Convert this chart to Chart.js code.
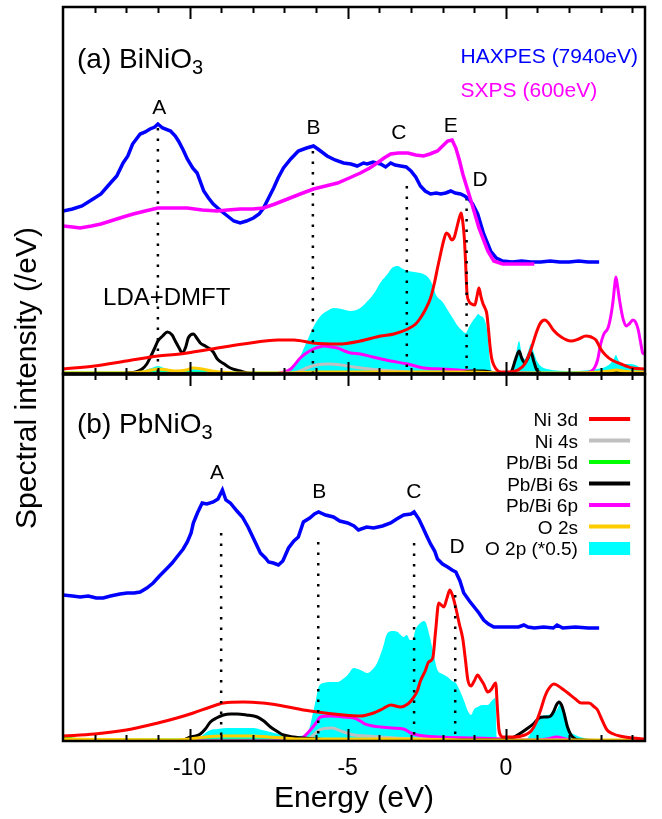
<!DOCTYPE html>
<html>
<head>
<meta charset="utf-8">
<script src="https://cdn.jsdelivr.net/npm/chart.js@4.4.0/dist/chart.umd.min.js"></script>
<style>
  html, body { margin: 0; padding: 0; background: #fff; }
</style>
</head>
<body>
<canvas id="myChart" width="662" height="819"></canvas>
<script>
// ---- (a) BiNiO3 : experiment ----
const haxA_E = [-14, -13.7, -13.4, -13.05, -12.8, -12.5, -12.3, -12.1, -11.95, -11.8, -11.56, -11.4, -11.25, -11.1, -11.0, -10.85, -10.6, -10.45, -10.35, -10.2, -10.07, -9.9, -9.76, -9.55, -9.4, -9.25, -9.0, -8.8, -8.6, -8.4, -8.2, -7.98, -7.8, -7.66, -7.5, -7.34, -7.2, -7.03, -6.8, -6.56, -6.3, -6.08, -5.9, -5.65, -5.4, -5.13, -4.9, -4.7, -4.5, -4.38, -4.2, -3.96, -3.8, -3.64, -3.5, -3.33, -3.15, -3.0, -2.85, -2.7, -2.55, -2.38, -2.2, -2.06, -1.9, -1.74, -1.6, -1.43, -1.3, -1.17, -1.05, -0.89, -0.7, -0.48, -0.3, -0.1, 0.2, 0.5, 0.8, 1.1, 1.4, 1.7, 2.0, 2.3, 2.6, 2.95];
const haxA_I = [163, 165, 168, 175, 180, 191, 198, 211, 218, 230, 240, 242, 245, 247, 250, 246, 243, 238, 233, 224, 215, 206, 201, 183, 176, 170, 163, 158, 153, 151, 153, 156, 160, 166, 176, 186, 196, 206, 215, 223, 226, 228, 224, 218, 214, 211, 210, 208, 211, 210, 212, 210, 207, 211, 209, 208, 207, 203, 197, 188, 183, 180, 181, 180, 181, 183, 181, 180, 178, 175, 170, 160, 140, 123, 116, 113, 112, 113, 112, 112, 113, 112, 112, 113, 112, 112];
const sxA_E = [-14, -13.7, -13.46, -13.1, -12.8, -12.5, -12.1, -11.78, -11.4, -11.0, -10.6, -10.07, -9.6, -9.12, -8.8, -8.4, -8.0, -7.66, -7.3, -6.9, -6.5, -6.08, -5.7, -5.32, -4.95, -4.6, -4.3, -4.07, -3.85, -3.64, -3.4, -3.1, -2.85, -2.6, -2.4, -2.16, -2.0, -1.84, -1.7, -1.58, -1.47, -1.36, -1.1, -0.85, -0.57, -0.38, -0.1, 0.3, 0.6, 0.9];
const sxA_I = [148, 147, 146, 148, 150, 153, 157, 160, 163, 166, 166, 166, 164, 163, 164, 165, 165, 166, 170, 175, 180, 185, 188, 191, 196, 201, 206, 211, 216, 220, 221, 221, 219, 218, 220, 223, 228, 233, 234, 226, 214, 200, 173, 146, 123, 113, 110, 110, 110, 110];

// ---- (a) BiNiO3 : LDA+DMFT ----
const ni3dA_E = [-14, -13, -12, -11, -10.3, -9.3, -8.3, -7.2, -6.7, -6.1, -5.3, -4.6, -3.96, -3.54, -3.1, -2.85, -2.7, -2.55, -2.38, -2.25, -2.16, -2.05, -1.96, -1.88, -1.8, -1.72, -1.64, -1.56, -1.48, -1.41, -1.36, -1.31, -1.27, -1.23, -1.17, -1.08, -0.98, -0.91, -0.85, -0.79, -0.73, -0.66, -0.6, -0.55, -0.5, -0.45, -0.38, -0.28, -0.15, 0.1, 0.38, 0.6, 0.8, 0.95, 1.06, 1.15, 1.24, 1.35, 1.5, 1.75, 2.06, 2.3, 2.53, 2.7, 2.85, 3.0, 3.15, 3.35, 3.64, 4.0, 4.4];
const ni3dA_I = [5, 8, 13, 18, 20, 25, 30, 34, 34, 31, 30, 33, 38, 40, 45, 50, 56, 64, 76, 92, 106, 122, 134, 141, 139, 134, 136, 145, 155, 161, 152, 135, 110, 82, 73, 70, 69, 78, 86, 78, 71, 66, 60, 45, 28, 16, 9, 4, 2, 2, 4, 10, 25, 40, 49, 53, 54, 51, 44, 37, 33, 35, 38, 37, 34, 25, 19, 14, 10, 6, 5];
const ni4sA_E = [-14, -7.0, -6.6, -6.3, -6.0, -5.6, -5.2, -4.8, -4.3, -3.5, -2.5, 0, 4.4];
const ni4sA_I = [0, 0, 2, 6, 9, 10, 9, 7, 5, 3, 1, 0, 0];
const d5A_E = [-14, 4.4];
const d5A_I = [1, 0.5];
const s6A_E = [-14, -12.3, -11.97, -11.7, -11.5, -11.35, -11.25, -11.1, -11.0, -10.85, -10.7, -10.55, -10.45, -10.33, -10.23, -10.12, -10.04, -9.88, -9.75, -9.66, -9.5, -9.4, -9.25, -9.12, -8.9, -8.71, -8.4, -8.17, -7, -1.6, -1.3, -1.0, -0.7, -0.5, -0.3, 0.1, 0.2, 0.3, 0.42, 0.5, 0.6, 0.7, 0.79, 0.88, 0.98, 1.1, 1.3, 3.2, 3.45, 3.7, 4.4];
const s6A_I = [0, 0, 1, 2, 5, 10, 16, 26, 33, 38, 42, 39, 33, 26, 21, 27, 36, 40, 35, 31, 28, 26, 22, 15, 10, 6, 3, 1, 0, 0, 2, 3, 3, 2, 0, 0, 4, 14, 23, 16, 11, 16, 22, 13, 4, 1, 0, 0, 2, 0, 0];
const p6A_E = [-14, -7.5, -7.0, -6.8, -6.5, -6.3, -6.08, -5.9, -5.76, -5.5, -5.32, -5.1, -4.9, -4.6, -4.2, -3.64, -3.1, -2.6, -2.0, -1.5, -0.7, -0.1, 0.5, 1.5, 2.5, 2.8, 2.9, 3.0, 3.1, 3.23, 3.32, 3.39, 3.44, 3.48, 3.53, 3.6, 3.7, 3.8, 3.9, 4.02, 4.1, 4.18, 4.26, 4.33, 4.4];
const p6A_I = [0, 0, 2, 5, 16, 21, 25, 27, 28, 27, 26, 23, 21, 20, 17, 13, 10, 6, 5, 4, 2, 1, 1, 0, 1, 6, 14, 30, 40, 46, 58, 73, 88, 97, 88, 73, 56, 48, 50, 54, 52, 45, 32, 21, 20];
const o2sA_E = [-14, -12, -11.5, -11.2, -11.0, -10.7, -10.4, -10.1, -9.9, -9.6, -9.3, -9.0, -8.5, -7, -6, -5, -3, -1, 0, 1, 2, 3, 3.3, 3.5, 3.7, 4.0, 4.4];
const o2sA_I = [1, 1, 2, 4, 5, 4, 3, 4, 6, 5, 3, 2, 1, 1, 2, 2, 2, 2, 1, 1, 1, 2, 3, 4, 3, 2, 2];
const o2pA_E = [-14, -12.5, -12.0, -11.5, -11.2, -11.0, -10.8, -10.5, -10.2, -10.0, -9.85, -9.6, -9.3, -9.0, -8.5, -7.5, -7.0, -6.8, -6.5, -6.3, -6.1, -5.86, -5.6, -5.45, -5.2, -4.9, -4.6, -4.4, -4.18, -3.95, -3.74, -3.6, -3.42, -3.25, -3.1, -2.9, -2.7, -2.55, -2.44, -2.3, -2.22, -2.0, -1.84, -1.68, -1.52, -1.4, -1.27, -1.15, -1.05, -0.95, -0.87, -0.8, -0.7, -0.6, -0.55, -0.5, -0.45, -0.35, 0.1, 0.2, 0.3, 0.42, 0.5, 0.6, 0.7, 0.79, 0.9, 1.0, 1.3, 2.1, 2.9, 3.2, 3.4, 3.48, 3.56, 3.7, 3.9, 4.1, 4.25, 4.4];
const o2pA_I = [0, 0, 1, 3, 6, 8, 6, 4, 4, 5, 6, 5, 3, 2, 1, 1, 2, 6, 18, 32, 46, 58, 64, 66, 65, 63, 66, 72, 80, 92, 100, 106, 108, 105, 103, 102, 101, 99, 96, 88, 80, 72, 64, 56, 48, 44, 41, 48, 53, 57, 60, 58, 56, 45, 30, 12, 3, 0, 0, 4, 16, 33, 20, 15, 22, 30, 20, 12, 5, 3, 5, 8, 14, 19, 14, 10, 10, 9, 6, 3];

// ---- (b) PbNiO3 : experiment ----
const haxB_E = [-14, -13.7, -13.46, -13.2, -12.95, -12.73, -12.5, -12.2, -11.97, -11.75, -11.56, -11.35, -11.15, -10.95, -10.7, -10.55, -10.4, -10.2, -10.07, -9.95, -9.88, -9.75, -9.6, -9.45, -9.25, -9.1, -8.96, -8.85, -8.71, -8.5, -8.33, -8.15, -8.0, -7.76, -7.6, -7.5, -7.35, -7.19, -7.05, -6.87, -6.7, -6.56, -6.4, -6.2, -6.05, -5.92, -5.7, -5.45, -5.25, -5.0, -4.8, -4.66, -4.4, -4.18, -3.9, -3.64, -3.45, -3.23, -3.0, -2.9, -2.75, -2.63, -2.5, -2.38, -2.25, -2.16, -2.0, -1.84, -1.7, -1.58, -1.45, -1.33, -1.15, -1.0, -0.85, -0.7, -0.55, -0.38, -0.2, 0.1, 0.4, 0.57, 0.7, 0.9, 1.2, 1.5, 1.62, 1.8, 2.2, 2.6, 2.95];
const haxB_I = [146, 145, 144, 145, 143, 143, 145, 147, 148, 148, 149, 153, 158, 165, 173, 178, 184, 192, 199, 208, 218, 228, 238, 237, 239, 242, 251, 241, 238, 230, 224, 214, 204, 188, 183, 179, 178, 176, 180, 193, 200, 204, 219, 223, 227, 229, 226, 224, 220, 218, 215, 211, 214, 213, 215, 218, 222, 226, 227, 229, 222, 214, 205, 197, 190, 182, 177, 174, 171, 169, 160, 148, 140, 134, 128, 121, 117, 114, 114, 114, 114, 116, 114, 113, 114, 113, 116, 113, 114, 113, 113];

// ---- (b) PbNiO3 : LDA+DMFT ----
const ni3dB_E = [-14, -13, -12, -11, -10.4, -9.88, -9.34, -8.93, -8.3, -7.7, -7.22, -6.18, -5.13, -4.6, -4.18, -3.9, -3.64, -3.33, -3.1, -2.95, -2.8, -2.7, -2.55, -2.44, -2.31, -2.22, -2.12, -2.04, -1.96, -1.86, -1.77, -1.68, -1.58, -1.47, -1.36, -1.28, -1.2, -1.1, -1.0, -0.89, -0.8, -0.7, -0.57, -0.45, -0.38, -0.32, -0.27, -0.22, -0.15, -0.1, 0.25, 0.6, 0.8, 0.95, 1.1, 1.23, 1.33, 1.52, 1.75, 1.96, 2.2, 2.38, 2.63, 2.8, 2.9, 3.0, 3.2, 3.4, 3.6, 4.0, 4.4];
const ni3dB_I = [5, 7, 11, 18, 23, 28, 34, 38, 39, 38, 36, 30, 26, 25, 28, 32, 36, 34, 37, 42, 50, 60, 70, 79, 83, 110, 138, 136, 134, 143, 151, 145, 133, 117, 102, 82, 61, 55, 60, 66, 62, 57, 49, 52, 56, 58, 35, 12, 5, 4, 4, 6, 10, 18, 31, 44, 51, 57, 53, 48, 42, 38, 38, 34, 31, 24, 11, 7, 5, 3, 2];
const ni4sB_E = [-14, -6.8, -6.2, -5.9, -5.5, -5.13, -4.8, -4.4, -4.0, -3.5, -2.5, -1, 4.4];
const ni4sB_I = [0, 0, 3, 11, 13, 9, 6, 5, 4, 3, 2, 1, 0];
const d5B_E = [-14, -13.7, -13, 4.4];
const d5B_I = [4, 2, 1, 0.5];
const s6B_E = [-14, -10.3, -9.97, -9.8, -9.66, -9.5, -9.34, -9.15, -8.93, -8.7, -8.49, -8.2, -7.86, -7.65, -7.44, -7.2, -7.03, -6.7, -6.4, -5.5, -0.2, 0.2, 0.47, 0.7, 0.9, 1.05, 1.2, 1.32, 1.42, 1.52, 1.6, 1.68, 1.76, 1.84, 1.95, 2.06, 2.2, 2.4, 4.4];
const s6B_I = [0, 0, 4, 5, 7, 12, 19, 23, 26, 27, 27, 26, 24, 20, 14, 9, 6, 4, 3, 1, 1, 3, 8, 13, 18, 23, 24, 24, 25, 30, 36, 39, 36, 28, 14, 6, 2, 1, 0];
const p6B_E = [-14, -7, -6.6, -6.4, -6.18, -6.0, -5.86, -5.5, -5.13, -4.8, -4.6, -4.45, -4.2, -3.96, -3.6, -3.23, -3.0, -2.8, -2.1, -1.0, 0, 0.5, 1.0, 1.3, 1.6, 1.9, 2.2, 4.4];
const p6B_I = [0, 0, 1, 4, 11, 18, 24, 25, 24, 23, 20, 17, 15, 14, 13, 12, 8, 6, 4, 3, 2, 1, 1, 2, 4, 2, 0, 0];
const o2sB_E = [-14, -10.5, -10, -9.5, -9.0, -8.5, -8.0, -7.5, -7.0, -6.5, -5, -3, -1, 0, 4.4];
const o2sB_I = [2, 1, 2, 4, 5, 5, 5, 4, 3, 2, 2, 2, 1, 1, 1];
const o2pB_E = [-14, -10, -9.66, -9.5, -9.34, -9.1, -8.8, -8.4, -7.98, -7.7, -7.44, -7.2, -6.9, -6.6, -6.3, -6.2, -6.1, -6.0, -5.92, -5.76, -5.55, -5.32, -5.15, -5.0, -4.81, -4.6, -4.38, -4.2, -4.07, -3.9, -3.74, -3.55, -3.42, -3.32, -3.23, -3.13, -3.03, -2.95, -2.85, -2.7, -2.6, -2.54, -2.45, -2.38, -2.27, -2.16, -2.0, -1.84, -1.7, -1.58, -1.45, -1.33, -1.2, -1.1, -1.0, -0.89, -0.75, -0.57, -0.45, -0.33, -0.29, -0.2, 0.6, 0.79, 0.95, 1.1, 1.3, 1.52, 1.63, 1.72, 1.8, 1.9, 2.0, 2.2, 2.6, 3.0, 4.4];
const o2pB_I = [0, 0, 4, 8, 11, 12, 13, 13, 13, 11, 9, 7, 5, 5, 7, 14, 28, 42, 54, 58, 59, 59, 62, 66, 73, 71, 68, 72, 78, 92, 108, 110, 109, 106, 104, 106, 101, 101, 112, 118, 120, 119, 110, 101, 85, 71, 67, 64, 60, 58, 50, 41, 30, 26, 32, 34, 36, 36, 40, 43, 3, 0, 0, 8, 16, 24, 26, 28, 32, 38, 30, 20, 11, 6, 2, 1, 0];

// peak markers (energy, top of dotted line)
const markA_E = [-11.0, -6.1, -3.13, -1.24];
const markA_top = [246, 223, 188, 176];
const markB_E = [-9.0, -5.93, -2.9, -1.6];
const markB_top = [208, 199, 198, 146];

const tickVals = [-10, -5, 0];

const FONT = "'Liberation Sans', Arial, Helvetica, sans-serif";
Chart.defaults.font.family = FONT;
Chart.defaults.color = '#000';

const pts = (E, I) => E.map((x, i) => ({x: x, y: I[i]}));

function curve(label, E, I, color, axis, order, opts) {
  return Object.assign({
    label: label,
    data: pts(E, I),
    yAxisID: axis,
    borderColor: color,
    backgroundColor: color,
    borderWidth: 3,
    pointRadius: 0,
    fill: false,
    order: order,
    cubicInterpolationMode: 'monotone'
  }, opts || {});
}

function marks(E, top, axis) {
  return E.map((e, i) => ({
    label: 'mark',
    data: [{x: e, y: top[i]}, {x: e, y: 0}],
    yAxisID: axis,
    borderColor: '#000',
    borderWidth: 2.5,
    borderDash: [2.5, 8],
    pointRadius: 0,
    fill: false,
    order: 5
  }));
}

const RED = '#ff0000', GRAY = '#c0c0c0', GREEN = '#00ff00', BLACK = '#000000',
      MAG = '#ff00ff', GOLD = '#ffcc00', CYAN = '#00ffff', BLUE = '#0000ff';
const EXP = {cubicInterpolationMode: 'default', tension: 0, borderWidth: 3.5};

const datasets = [
  // panel (a)
  curve('O 2p (*0.5)', o2pA_E, o2pA_I, CYAN, 'yA', 20, {fill: 'origin', borderWidth: 0}),
  curve('Pb/Bi 5d', d5A_E, d5A_I, GREEN, 'yA', 19),
  curve('Ni 4s', ni4sA_E, ni4sA_I, GRAY, 'yA', 18),
  curve('Pb/Bi 6p', p6A_E, p6A_I, MAG, 'yA', 17),
  curve('Pb/Bi 6s', s6A_E, s6A_I, BLACK, 'yA', 16),
  curve('O 2s', o2sA_E, o2sA_I, GOLD, 'yA', 15),
  curve('Ni 3d', ni3dA_E, ni3dA_I, RED, 'yA', 14),
  ...marks(markA_E, markA_top, 'yA'),
  curve('HAXPES (7940eV)', haxA_E, haxA_I, BLUE, 'yA', 2, EXP),
  curve('SXPS (600eV)', sxA_E, sxA_I, MAG, 'yA', 1, EXP),
  // panel (b)
  curve('O 2p (*0.5)', o2pB_E, o2pB_I, CYAN, 'yB', 20, {fill: 'origin', borderWidth: 0}),
  curve('Pb/Bi 5d', d5B_E, d5B_I, GREEN, 'yB', 19),
  curve('Ni 4s', ni4sB_E, ni4sB_I, GRAY, 'yB', 18),
  curve('Pb/Bi 6p', p6B_E, p6B_I, MAG, 'yB', 17),
  curve('Pb/Bi 6s', s6B_E, s6B_I, BLACK, 'yB', 16),
  curve('O 2s', o2sB_E, o2sB_I, GOLD, 'yB', 15),
  curve('Ni 3d', ni3dB_E, ni3dB_I, RED, 'yB', 14),
  ...marks(markB_E, markB_top, 'yB'),
  curve('HAXPES (7940eV)', haxB_E, haxB_I, BLUE, 'yB', 2, EXP)
];

// legend order as in the figure
const legendOrder = ['Ni 3d', 'Ni 4s', 'Pb/Bi 5d', 'Pb/Bi 6s', 'Pb/Bi 6p', 'O 2s', 'O 2p (*0.5)'];

// peak letters: [text, energy, height]
const notesA = [['A', -10.96, 260], ['B', -6.08, 240], ['C', -3.38, 235], ['E', -1.74, 242], ['D', -0.81, 188]];
const notesB = [['A', -9.13, 262], ['B', -5.9, 243], ['C', -2.91, 243], ['D', -1.54, 188]];

function text(ctx, s, x, y, size, color, align, base) {
  ctx.font = size + 'px ' + FONT;
  ctx.fillStyle = color || '#000';
  ctx.textAlign = align || 'left';
  ctx.textBaseline = base || 'alphabetic';
  ctx.fillText(s, x, y);
}

const decor = {
  id: 'decor',
  afterDraw(chart) {
    const ctx = chart.ctx;
    const x = chart.scales.x, yA = chart.scales.yA, yB = chart.scales.yB;
    const L = x.left, R = x.right;
    ctx.save();
    ctx.strokeStyle = '#000';
    [yA, yB].forEach(y => {
      ctx.lineWidth = 2;
      for (let e = Math.ceil(x.min) + 1; e < x.max; e++) {
        const px = Math.round(x.getPixelForValue(e)) + 0.5;
        const len = e % 5 === 0 ? 12 : 6;
        ctx.beginPath();
        ctx.moveTo(px, y.top); ctx.lineTo(px, y.top + len);
        ctx.moveTo(px, y.bottom); ctx.lineTo(px, y.bottom - len);
        ctx.stroke();
      }
      ctx.lineWidth = 2.5;
      ctx.strokeRect(L, y.top, R - L, y.bottom - y.top);
    });
    ctx.lineWidth = 3.5;
    ctx.beginPath(); ctx.moveTo(L, yA.bottom); ctx.lineTo(R, yA.bottom); ctx.stroke();

    // panel titles
    text(ctx, '(a) BiNiO', L + 14, yA.top + 61, 28);
    let w = ctx.measureText('(a) BiNiO').width;
    text(ctx, '3', L + 14 + w, yA.top + 67, 20);
    text(ctx, '(b) PbNiO', L + 14, yB.top + 59, 28);
    w = ctx.measureText('(b) PbNiO').width;
    text(ctx, '3', L + 14 + w, yB.top + 65, 20);

    // peak letters
    notesA.forEach(n => text(ctx, n[0], x.getPixelForValue(n[1]), yA.getPixelForValue(n[2]), 21, '#000', 'center'));
    notesB.forEach(n => text(ctx, n[0], x.getPixelForValue(n[1]), yB.getPixelForValue(n[2]), 21, '#000', 'center'));
    text(ctx, 'LDA+DMFT', x.getPixelForValue(-10.72), yA.getPixelForValue(69), 24, '#000', 'center');

    // experiment labels
    const ex = x.getPixelForValue(-1.43);
    text(ctx, 'HAXPES (7940eV)', ex, yA.getPixelForValue(311), 21, BLUE);
    text(ctx, 'SXPS (600eV)', ex, yA.getPixelForValue(277), 21, MAG);

    // legend in panel (b)
    const tx = x.getPixelForValue(2.28);
    const lx0 = x.getPixelForValue(2.63), lx1 = x.getPixelForValue(3.93);
    const bDs = chart.data.datasets.filter(d => d.yAxisID === 'yB');
    legendOrder.forEach((name, k) => {
      const d = bDs.find(s => s.label === name);
      const base = yB.top + 52 + k * 21.5;
      text(ctx, name, tx, base, 19, '#000', 'right');
      const cy = base - 7;
      if (d.fill) {
        ctx.fillStyle = d.backgroundColor;
        ctx.fillRect(lx0, cy - 6, lx1 - lx0, 13);
      } else {
        ctx.strokeStyle = d.borderColor;
        ctx.lineWidth = 4;
        ctx.beginPath(); ctx.moveTo(lx0, cy); ctx.lineTo(lx1, cy); ctx.stroke();
      }
    });

    // y title
    ctx.save();
    ctx.translate(28, (yA.top + yB.bottom) / 2 + 4);
    ctx.rotate(-Math.PI / 2);
    text(ctx, 'Spectral intensity (/eV)', 0, 0, 30, '#000', 'center', 'middle');
    ctx.restore();
    ctx.restore();
  }
};

new Chart(document.getElementById('myChart'), {
  type: 'line',
  data: {datasets: datasets},
  options: {
    responsive: false,
    animation: false,
    layout: {padding: {left: 63, right: 17, top: 7, bottom: 0}},
    plugins: {legend: {display: false}, tooltip: {enabled: false}},
    scales: {
      x: {
        type: 'linear', min: -14, max: 4.4,
        grid: {display: false, drawTicks: false},
        border: {display: false},
        afterBuildTicks: s => { s.ticks = tickVals.map(v => ({value: v})); },
        ticks: {font: {size: 23, lineHeight: 1}, color: '#000', padding: 16, callback: v => String(v)},
        title: {display: true, text: 'Energy (eV)', font: {size: 30, lineHeight: 0.2}, color: '#000', padding: {top: 0, bottom: 17}}
      },
      // later-defined stacked axis is placed on top
      yB: {type: 'linear', position: 'left', stack: 'panels', stackWeight: 1, min: 0, max: 367, display: false},
      yA: {type: 'linear', position: 'left', stack: 'panels', stackWeight: 1, min: 0, max: 367, display: false}
    }
  },
  plugins: [decor]
});
</script>
</body>
</html>
